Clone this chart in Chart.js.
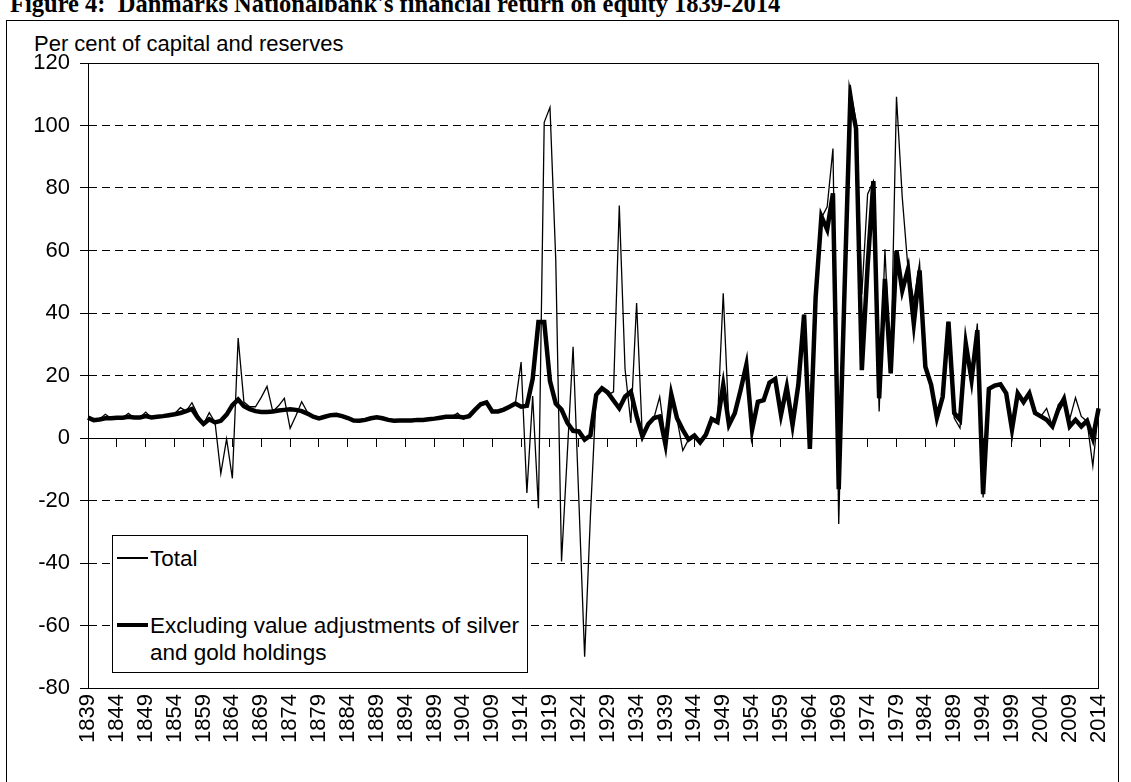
<!DOCTYPE html>
<html>
<head>
<meta charset="utf-8">
<script src="https://cdn.jsdelivr.net/npm/chart.js@4.4.1/dist/chart.umd.min.js"></script>
<style>
  body { margin: 0; background: #fff; font-family: "Liberation Sans", Arial, sans-serif; color: #000; }
  #wrap { position: relative; width: 1131px; height: 782px; overflow: hidden; }
  #frame { position: absolute; left: 6px; top: 20px; width: 1111px; height: 800px; border: 1px solid #000; }
  #title { position: absolute; left: 10px; top: -10px; line-height: 24px; white-space: nowrap;
           font: bold 24.5px "Liberation Serif", "Times New Roman", serif; }
  #ytitle { position: absolute; left: 34px; top: 33px; font-size: 22px; line-height: 22px; white-space: nowrap; }
  #plot { position: absolute; left: 0; top: 0; width: 1131px; height: 782px; }
  #legend { position: absolute; left: 112px; top: 535px; width: 414px; height: 136px;
            border: 1px solid #000; background: #fff; }
  .lg-line { position: absolute; background: #000; }
  .lg-text { position: absolute; font-size: 22.5px; line-height: 27px; }
</style>
</head>
<body>
<div id="wrap">
  <div id="frame"></div>
  <div id="title">Figure 4:&nbsp; Danmarks Nationalbank's financial return on equity 1839-2014</div>
  <div id="ytitle">Per cent of capital and reserves</div>
  <div id="plot"><canvas id="chart"></canvas></div>
  <div id="legend"></div>
</div>
<script>
// categories: one per year
const years = [];
for (let y = 1839; y <= 2014; y++) years.push(String(y));

// Total return, per cent of capital and reserves
const total = [
  6.5, 5.5, 6.0, 7.6, 6.3, 6.5, 6.5, 7.9, 6.4, 6.6,
  8.3, 6.4, 6.8, 7.0, 7.3, 7.8, 9.7, 8.6, 11.3, 7.5,
  4.5, 8.1, 5.0, -11.4, -0.3, -12.9, 32.0, 11.5, 10.0, 10.0,
  13.0, 16.5, 8.5, 10.3, 12.7, 3.1, 7.1, 11.6, 8.2, 6.6,
  6.1, 6.8, 7.3, 7.4, 7.0, 6.4, 5.6, 5.5, 5.8, 6.3,
  6.6, 6.3, 5.8, 5.5, 5.6, 5.6, 5.6, 5.8, 5.8, 6.0,
  6.2, 6.5, 6.8, 6.8, 8.0, 6.0, 7.0, 9.0, 10.8, 11.4,
  8.5, 8.5, 9.1, 10.0, 11.0, 24.3, -17.6, 13.4, -22.5, 101.0,
  105.8, 57.0, -39.5, -5.0, 29.2, -20.0, -70.0, -25.0, 14.0, 16.0,
  13.8, 14.8, 74.4, 22.0, 4.8, 43.2, 0.0, 4.2, 6.4, 13.2,
  -1.0, 14.0, 6.0, -4.0, -0.5, 0.8, -1.4, 1.1, 6.1, 5.1,
  46.3, 4.2, 7.9, 15.3, 23.4, 2.6, 11.6, 12.1, 17.7, 18.9,
  7.4, 16.3, 4.2, 17.0, 39.5, -3.5, 45.0, 70.4, 74.0, 92.6,
  -27.5, 47.0, 113.0, 101.0, 46.0, 78.0, 82.2, 8.5, 60.4, 20.7,
  109.2, 77.0, 54.1, 44.0, 56.0, 22.8, 17.5, 6.5, 13.2, 37.2,
  6.4, 3.2, 30.2, 18.6, 36.6, -19.0, 15.7, 16.8, 17.2, 14.3,
  2.7, 14.3, 11.5, 14.3, 8.0, 6.9, 9.5, 3.7, 10.6, 12.9,
  6.0, 12.9, 6.9, 5.3, -9.0, 9.5,
];

// Excluding value adjustments of silver and gold holdings
const excluding = [
  6.5, 5.7, 5.9, 6.3, 6.3, 6.5, 6.5, 6.8, 6.6, 6.6,
  7.0, 6.6, 6.8, 7.0, 7.3, 7.6, 8.0, 8.6, 9.3, 6.5,
  4.5, 6.0, 5.0, 5.5, 7.5, 10.5, 12.3, 10.2, 9.2, 8.6,
  8.3, 8.3, 8.5, 8.8, 9.0, 9.2, 9.0, 8.6, 7.8, 6.8,
  6.3, 6.8, 7.3, 7.4, 7.0, 6.4, 5.6, 5.5, 5.8, 6.3,
  6.6, 6.3, 5.8, 5.5, 5.6, 5.6, 5.6, 5.8, 5.8, 6.0,
  6.2, 6.5, 6.8, 6.8, 6.9, 6.6, 7.0, 9.0, 10.8, 11.4,
  8.5, 8.5, 9.1, 10.0, 11.0, 10.0, 10.3, 18.9, 37.1, 37.1,
  18.2, 11.0, 9.1, 4.9, 2.3, 2.1, -0.5, 0.8, 13.8, 15.9,
  14.6, 12.0, 9.5, 13.2, 14.8, 7.0, 0.5, 4.4, 6.4, 6.9,
  -2.1, 14.0, 6.3, 2.6, -0.5, 0.8, -1.4, 1.1, 6.1, 5.1,
  17.0, 4.2, 7.9, 15.3, 23.4, 2.6, 11.6, 12.1, 17.7, 18.9,
  7.4, 16.3, 4.2, 17.0, 39.5, -3.5, 45.0, 70.9, 66.7, 78.3,
  -16.4, 47.0, 108.5, 99.0, 21.7, 55.0, 82.2, 12.7, 50.9, 20.7,
  59.9, 47.2, 54.1, 36.6, 53.6, 22.8, 17.0, 6.5, 13.2, 37.2,
  8.0, 5.8, 30.2, 18.6, 34.5, -18.0, 15.7, 16.8, 17.2, 14.3,
  2.7, 14.3, 11.5, 14.3, 8.0, 6.9, 5.8, 3.7, 9.0, 12.5,
  3.7, 5.8, 3.7, 5.5, 0.0, 9.5,
];

// y axis range and steps, x label every 5th year
const yMin = -80;
const yMax = 120;
const yStep = 20;
const labelEvery = 5;

const AXIS_FONT = { family: "'Liberation Sans', Arial, sans-serif", size: 22 };

// solid frame round the plot area (top and right edges too)
const plotFrame = {
  id: "plotFrame",
  afterDatasetsDraw(chart) {
    const { ctx, chartArea: a } = chart;
    ctx.save();
    ctx.strokeStyle = "#000";
    ctx.lineWidth = 1;
    ctx.setLineDash([]);
    ctx.strokeRect(Math.round(a.left) + 0.5, Math.round(a.top) + 0.5,
      Math.round(a.right - a.left) - 1, Math.round(a.bottom - a.top));
    ctx.restore();
  },
};

const chart = new Chart(document.getElementById("chart"), {
  type: "line",
  data: {
    labels: years,
    datasets: [
      {
        label: "Total",
        data: total,
        borderColor: "#000",
        borderWidth: 1.3,
        pointRadius: 0,
        tension: 0,
        order: 1,
      },
      {
        label: "Excluding value adjustments of silver and gold holdings",
        data: excluding,
        borderColor: "#000",
        borderWidth: 4.5,
        pointRadius: 0,
        tension: 0,
        order: 0,
      },
    ],
  },
  options: {
    responsive: true,
    maintainAspectRatio: false,
    animation: false,
    layout: { padding: { left: 0, top: 63, right: 27, bottom: 0 } },
    plugins: { legend: { display: false }, tooltip: { enabled: false } },
    scales: {
      x: {
        type: "category",
        position: "bottom",
        offset: false,
        grid: { display: true, drawOnChartArea: false, drawTicks: false },
        border: { display: true, color: "#000", width: 1 },
        ticks: {
          autoSkip: false,
          minRotation: 90,
          maxRotation: 90,
          padding: 6,
          color: "#000",
          font: AXIS_FONT,
          callback: (v, i) => (i % labelEvery === 0 ? years[i] : ""),
        },
        afterFit: (s) => { s.height = 94; },
      },
      // axis line at zero carrying the tick marks
      x2: {
        type: "category",
        position: { y: 0 },
        offset: false,
        grid: {
          display: true,
          drawOnChartArea: false,
          drawTicks: true,
          tickLength: 8,
          color: (c) => (c.index % labelEvery === 0 ? "#000" : "rgba(0,0,0,0)"),
          tickColor: (c) => (c.index % labelEvery === 0 ? "#000" : "rgba(0,0,0,0)"),
        },
        border: { display: true, color: "#000", width: 1 },
        ticks: { display: false, autoSkip: false },
      },
      y: {
        min: yMin,
        max: yMax,
        ticks: { stepSize: yStep, padding: 10, color: "#000", font: AXIS_FONT },
        grid: {
          color: "#000",
          lineWidth: 1,
          drawTicks: true,
          tickLength: 8,
          tickBorderDash: [],
        },
        border: { display: true, color: "#000", dash: [8, 5] },
        afterFit: (s) => { s.width = 88; },
      },
    },
  },
  plugins: [plotFrame],
});

// ── legend box drawn inside the plot, built from the datasets
const legendRows = [558, 625]; // centre line of each entry
const legendEl = document.getElementById("legend");
const box = legendEl.getBoundingClientRect();
chart.data.datasets.forEach((ds, i) => {
  const cy = legendRows[i] - box.top - 1;
  const line = document.createElement("div");
  line.className = "lg-line";
  line.style.left = "4px";
  line.style.width = "31px";
  line.style.height = ds.borderWidth + "px";
  line.style.top = cy - ds.borderWidth / 2 + "px";
  legendEl.appendChild(line);

  const txt = document.createElement("div");
  txt.className = "lg-text";
  txt.style.left = "37px";
  txt.style.width = "376px";
  txt.style.top = cy - 13.5 + "px";
  txt.textContent = ds.label;
  legendEl.appendChild(txt);
});
</script>
</body>
</html>
